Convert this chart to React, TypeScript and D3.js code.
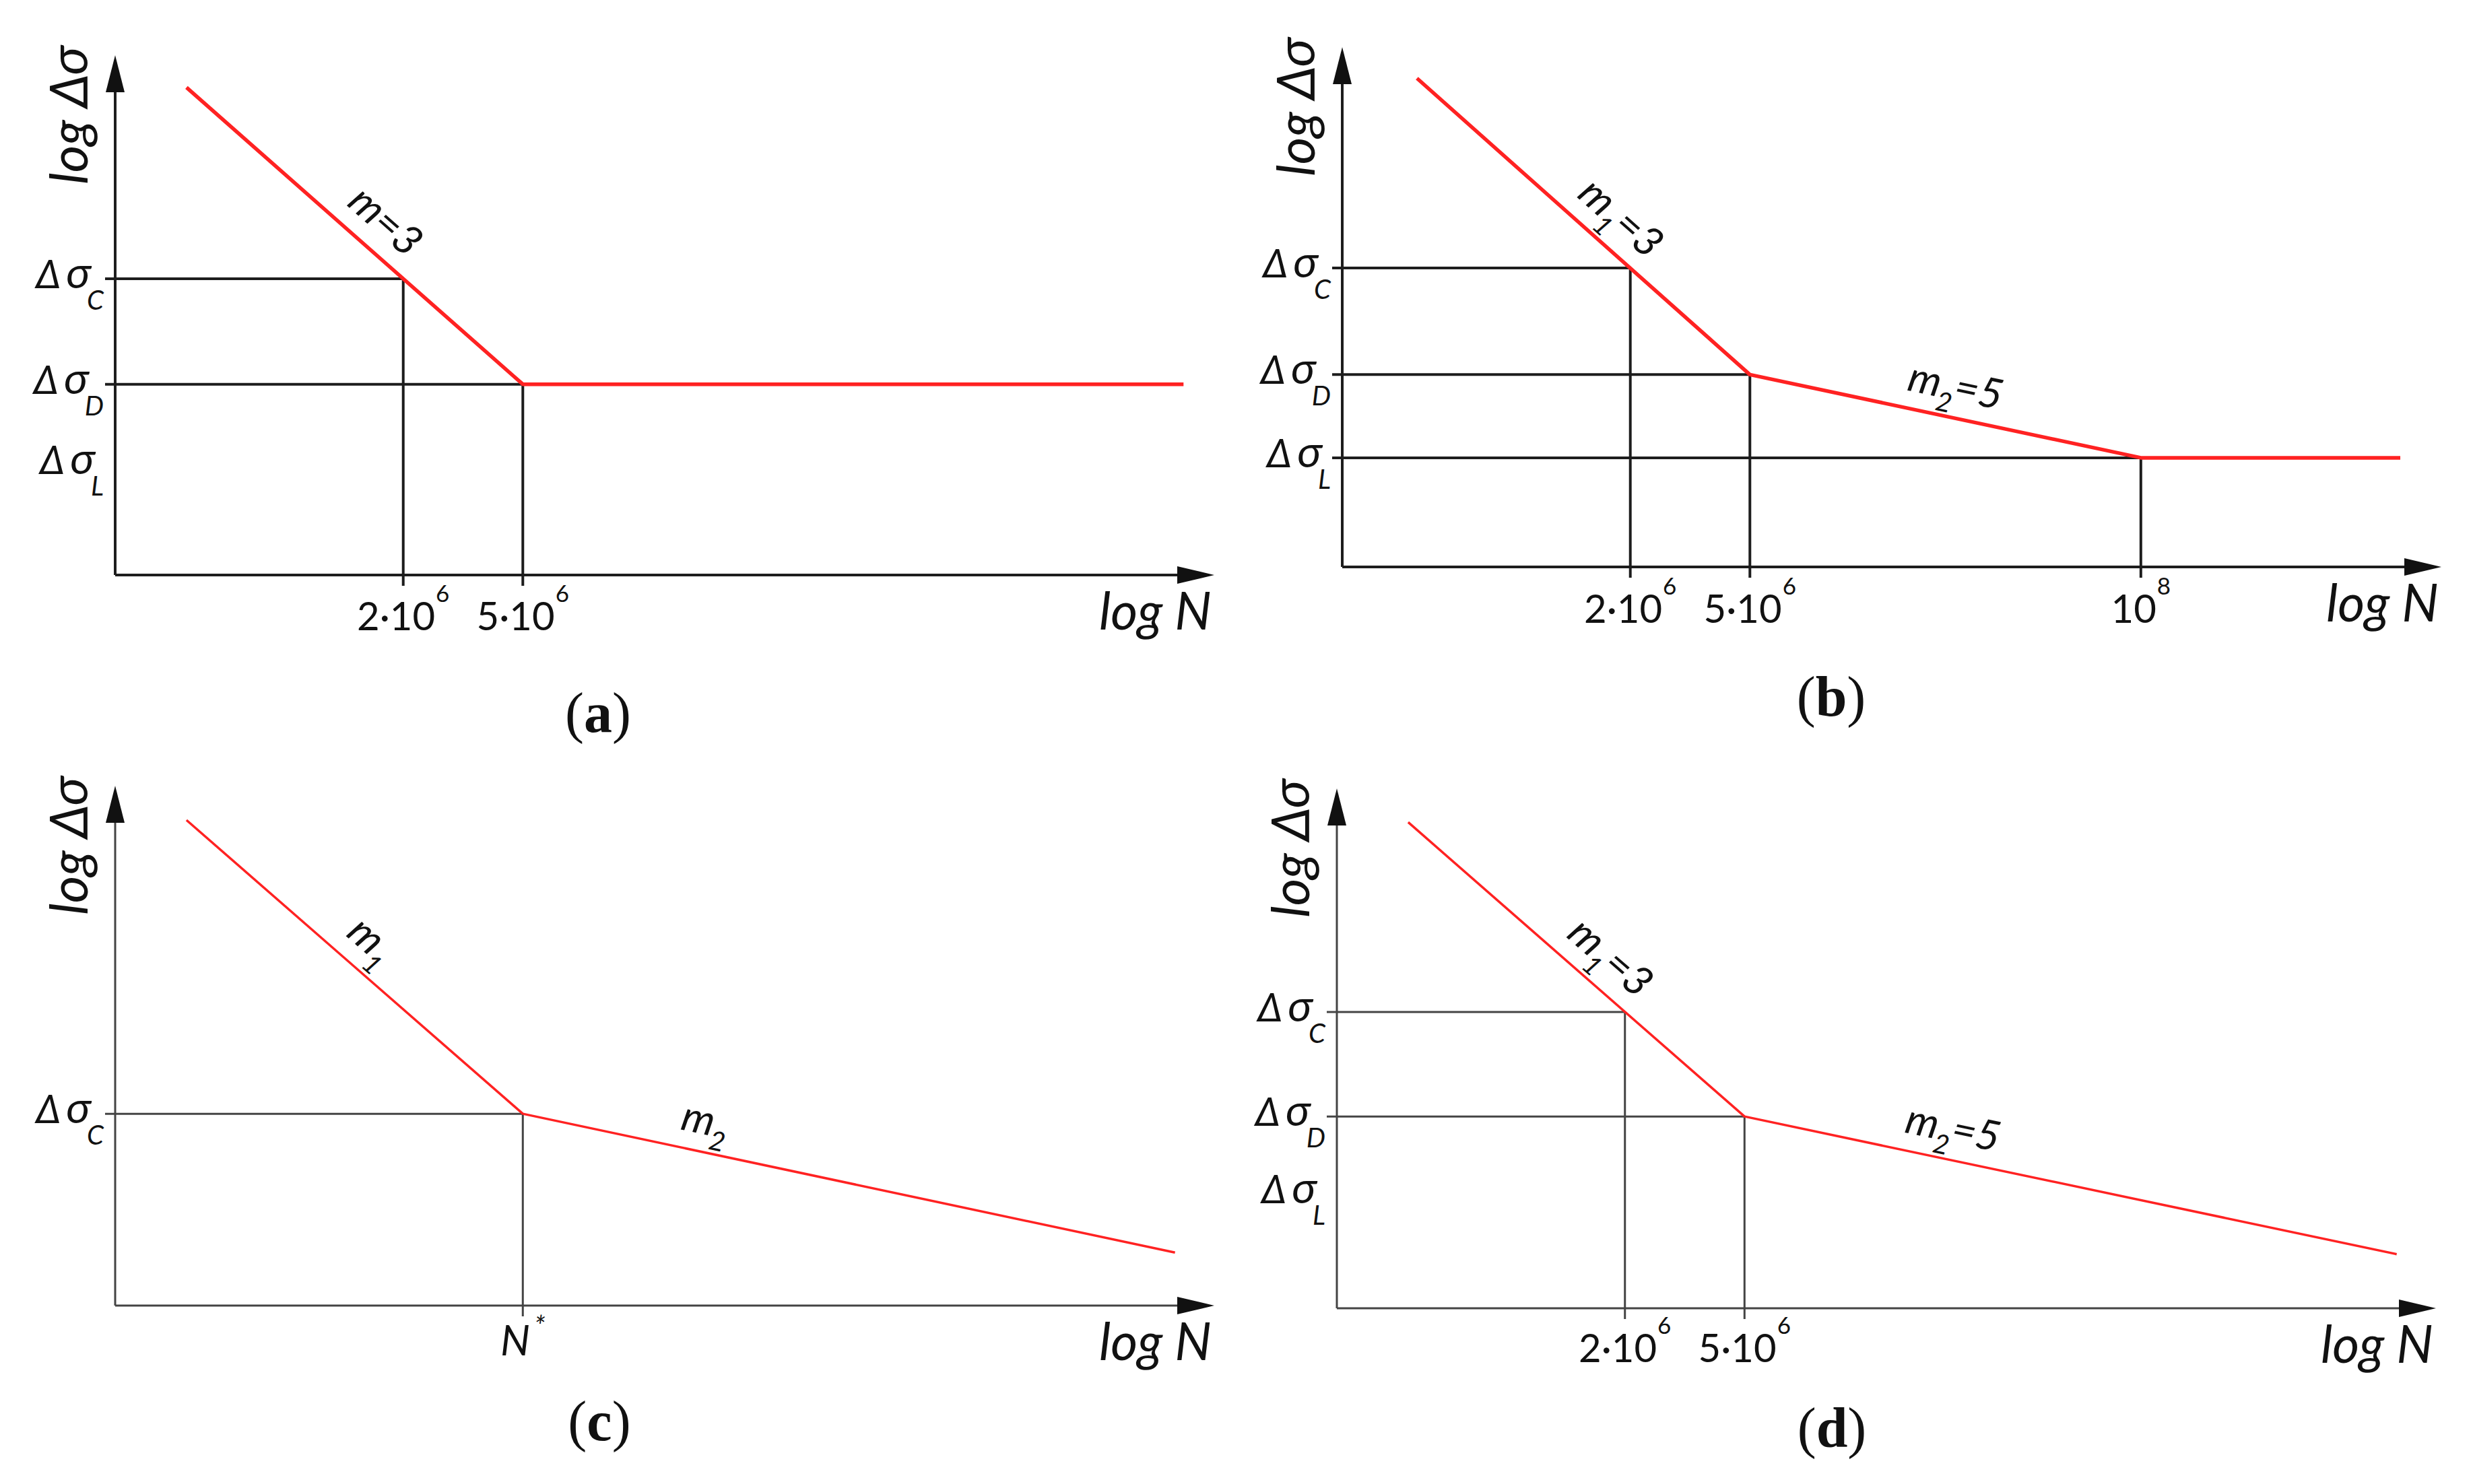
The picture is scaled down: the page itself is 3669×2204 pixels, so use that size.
import React from "react";
import * as d3 from "d3";

// shared scales: N on a log axis, log Δσ in relative units (0 = N axis, 100 = arrow tip)
const nDomain: [number, number] = [2.2e5, 1e9];
const sDomain: [number, number] = [0, 100];

// red S-N curves, [N, log Δσ]
const curveA = [[3.8e5, 93.8], [5e6, 36.7], [7.9e8, 36.7]];
const curveB = [[3.9e5, 94.0], [5e6, 37.0], [1e8, 21.0], [7.3e8, 21.0]];
const curveC = [[3.8e5, 93.4], [5e6, 36.9], [7.4e8, 10.2]];
const curveD = [[3.8e5, 93.5], [5e6, 36.9], [7.4e8, 10.4]];

// black reference lines: [N, log Δσ] -> horizontal from the axis, vertical down to the axis
const guidesA = [[2e6, 57.0], [5e6, 36.7]];
const guidesB = [[2e6, 57.5], [5e6, 37.0], [1e8, 21.0]];
const guidesC = [[5e6, 36.9]];
const guidesD = [[2e6, 57.0], [5e6, 36.9]];

// stress level labels on the vertical axis: [subscript, log Δσ]
const levelsA: [string, number][] = [["C", 57.0], ["D", 36.7], ["L", 21.2]];
const levelsB: [string, number][] = [["C", 57.5], ["D", 37.0], ["L", 21.0]];
const levelsC: [string, number][] = [["C", 36.9]];
const levelsD: [string, number][] = [["C", 57.0], ["D", 36.9], ["L", 22.0]];

// tick labels on the N axis: [N, text, superscript]
const ticksA: [number, string, string][] = [[2e6, "2·10", "6"], [5e6, "5·10", "6"]];
const ticksB: [number, string, string][] = [[2e6, "2·10", "6"], [5e6, "5·10", "6"], [1e8, "10", "8"]];
const ticksC: [number, string, string][] = [[5e6, "N", "*"]];
const ticksD: [number, string, string][] = [[2e6, "2·10", "6"], [5e6, "5·10", "6"]];

// slope labels: [curve segment, fraction along segment, subscript, rest]
const slopesA: [number, number, string, string][] = [[0, 0.53, "", "=3"]];
const slopesB: [number, number, string, string][] = [[0, 0.55, "1", "=3"], [1, 0.51, "2", "=5"]];
const slopesC: [number, number, string, string][] = [[0, 0.49, "1", ""], [1, 0.27, "2", ""]];
const slopesD: [number, number, string, string][] = [[0, 0.54, "1", "=3"], [1, 0.31, "2", "=5"]];

const FONT = "Lato, 'Open Sans', 'DejaVu Sans', sans-serif";
const SERIF = "'Liberation Serif', 'DejaVu Serif', serif";
const RED = "#ff2222";
const AXIS_W = 1632;
const AXIS_H = 772;

const layout: Record<string, any> = {
  a: { ox: 171, oy: 854, heavy: true, tag: [888, 1087], tickDy: 82 },
  b: { ox: 1993, oy: 842, heavy: true, tag: [2719, 1063], tickDy: 83 },
  c: { ox: 171, oy: 1939, heavy: false, tag: [890, 2139], tickDy: 74 },
  d: { ox: 1985, oy: 1943, heavy: false, tag: [2720, 2149], tickDy: 80 },
};

function Panel({ id, curve, guides, levels, ticks, slopes }: any) {
  const L = layout[id];
  const x = d3.scaleLog().domain(nDomain).range([L.ox, L.ox + AXIS_W]);
  const y = d3.scaleLinear().domain(sDomain).range([L.oy, L.oy - AXIS_H]);
  const ink = L.heavy ? "#1d1d1d" : "#444";
  const sw = L.heavy ? 4 : 3;
  const rw = L.heavy ? 5.5 : 3.5;
  const line = d3.line<number[]>().x((d) => x(d[0])).y((d) => y(d[1]));

  const xs = x(nDomain[0]);
  const xe = x(nDomain[1]);
  const ys = y(sDomain[0]);
  const ye = y(sDomain[1]);

  return (
    <g>
      {/* guides */}
      {guides.map((g: number[], i: number) => (
        <g key={"g" + i} stroke={ink} strokeWidth={sw} fill="none">
          <line x1={xs - 15} x2={x(g[0])} y1={y(g[1])} y2={y(g[1])} />
          <line x1={x(g[0])} x2={x(g[0])} y1={y(g[1])} y2={ys + 16} />
        </g>
      ))}

      {/* axes with arrow heads */}
      <line x1={xs} x2={xs} y1={ys} y2={ye + 50} stroke={ink} strokeWidth={sw} />
      <line x1={xs} x2={xe - 50} y1={ys} y2={ys} stroke={ink} strokeWidth={sw} />
      <path d={`M${xs},${ye} L${xs - 14},${ye + 55} L${xs + 14},${ye + 55} Z`} fill="#111" />
      <path d={`M${xe},${ys} L${xe - 55},${ys - 13} L${xe - 55},${ys + 13} Z`} fill="#111" />

      {/* S-N curve */}
      <path d={line(curve) || ""} fill="none" stroke={RED} strokeWidth={rw} strokeLinejoin="round" />

      {/* axis titles */}
      <text
        transform={`translate(${xs - 41},${ye - 14}) rotate(-90)`}
        textAnchor="end"
        fontSize={78}
        fontStyle="italic"
        fontFamily={FONT}
        fill="#111"
      >
        log Δσ
      </text>
      <text x={xe - 4} y={ys + 81} textAnchor="end" fontSize={77} fontStyle="italic" fontFamily={FONT} fill="#111">
        log N
      </text>

      {/* stress levels */}
      {levels.map((l: [string, number]) => (
        <text
          key={l[0]}
          x={xs - 17}
          y={y(l[1]) + 14}
          textAnchor="end"
          fontSize={58}
          fontStyle="italic"
          fontFamily={FONT}
          fill="#111"
        >
          Δ
          <tspan fontSize={66} dx={8}>
            σ
          </tspan>
          <tspan fontSize={40} dx={-6} dy={32}>
            {l[0]}
          </tspan>
        </text>
      ))}

      {/* N ticks */}
      {ticks.map((t: [number, string, string]) => {
        const sym = t[1] === "N";
        return (
          <text
            key={t[1] + t[0]}
            x={x(t[0])}
            y={ys + L.tickDy}
            textAnchor="middle"
            fontSize={sym ? 62 : 58}
            fontStyle={sym ? "italic" : "normal"}
            fontFamily={FONT}
            fill="#111"
          >
            {t[1]}
            <tspan fontSize={sym ? 42 : 35} dx={sym ? 6 : 1} dy={sym ? -28 : -42}>
              {t[2]}
            </tspan>
          </text>
        );
      })}

      {/* slope labels */}
      {slopes.map((s: [number, number, string, string], i: number) => {
        const p0 = [x(curve[s[0]][0]), y(curve[s[0]][1])];
        const p1 = [x(curve[s[0] + 1][0]), y(curve[s[0] + 1][1])];
        const px = p0[0] + s[1] * (p1[0] - p0[0]);
        const py = p0[1] + s[1] * (p1[1] - p0[1]);
        const ang = (Math.atan2(p1[1] - p0[1], p1[0] - p0[0]) * 180) / Math.PI;
        return (
          <text
            key={"s" + i}
            transform={`translate(${px},${py}) rotate(${ang})`}
            y={-26}
            textAnchor="middle"
            fontSize={62}
            fontStyle="italic"
            fontFamily={FONT}
            fill="#111"
          >
            m
            {s[2] && (
              <tspan fontSize={40} dx={-2} dy={20}>
                {s[2]}
              </tspan>
            )}
            {s[3] && <tspan dy={s[2] ? -20 : 0}>{s[3]}</tspan>}
          </text>
        );
      })}

      {/* panel tag */}
      <text x={L.tag[0]} y={L.tag[1]} textAnchor="middle" fontSize={84} fontFamily={SERIF} fill="#111">
        (<tspan fontWeight="bold">{id}</tspan>)
      </text>
    </g>
  );
}

export default function App() {
  return (
    <svg
      width={3669}
      height={2204}
      style={{ position: "absolute", left: 0, top: 0, background: "#fff" }}
    >
      <rect width={3669} height={2204} fill="#fff" />
      <Panel id="a" curve={curveA} guides={guidesA} levels={levelsA} ticks={ticksA} slopes={slopesA} />
      <Panel id="b" curve={curveB} guides={guidesB} levels={levelsB} ticks={ticksB} slopes={slopesB} />
      <Panel id="c" curve={curveC} guides={guidesC} levels={levelsC} ticks={ticksC} slopes={slopesC} />
      <Panel id="d" curve={curveD} guides={guidesD} levels={levelsD} ticks={ticksD} slopes={slopesD} />
    </svg>
  );
}
